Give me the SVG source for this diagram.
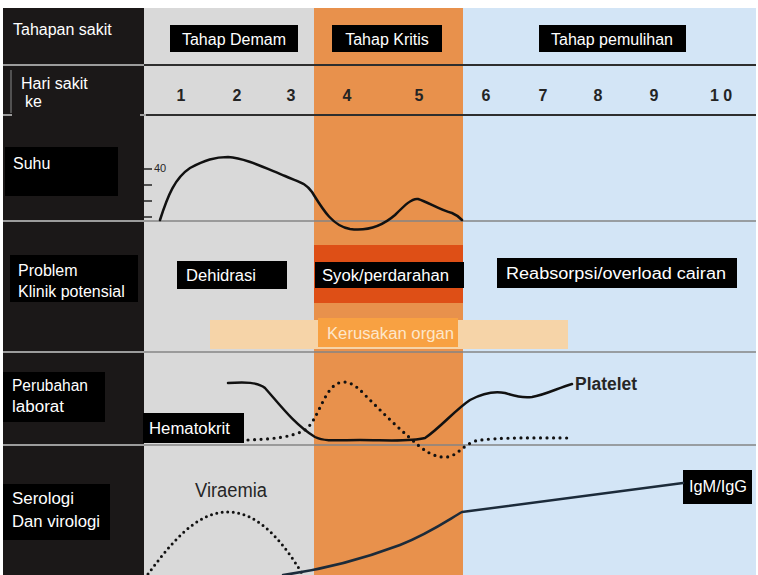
<svg xmlns="http://www.w3.org/2000/svg" width="758" height="575" viewBox="0 0 758 575">
<style>
.lbl{font-family:"Liberation Sans",Arial,sans-serif;font-size:16px;fill:#fff}
.box{fill:#000}
.num{font-family:"Liberation Sans",Arial,sans-serif;font-size:16px;font-weight:bold;fill:#242424;text-anchor:middle}
.dark{font-family:"Liberation Sans",Arial,sans-serif;fill:#262626}
.curve{fill:none;stroke:#111;stroke-width:2.5;stroke-linecap:round;stroke-linejoin:round}
.dots{fill:none;stroke:#111;stroke-width:3.2;stroke-linecap:round;stroke-dasharray:0 6.5}
.rule{stroke:#2e2e2e;stroke-width:2}
.rule2{stroke:#858585;stroke-width:1.5}
.lrule{stroke:#c8c8c8;stroke-width:1.5}
.tick{stroke:#222;stroke-width:1.5}
</style>

<rect width="758" height="575" fill="#fff"/>

<!-- phase columns -->
<rect x="3" y="8" width="141" height="567" fill="#1b1818"/>
<rect x="144" y="8" width="170" height="567" fill="#d9d9d9"/>
<rect x="314" y="8" width="149" height="567" fill="#e8914c"/>
<rect x="463" y="8" width="293" height="567" fill="#d3e5f6"/>

<!-- row rules -->
<g id="rules">
  <line class="rule" x1="144" y1="65" x2="756" y2="65"/>
  <line class="rule" x1="144" y1="115" x2="756" y2="115"/>
  <line class="rule2" x1="144" y1="221" x2="756" y2="221"/>
  <line class="rule2" x1="144" y1="352" x2="756" y2="352"/>
  <line class="rule2" x1="144" y1="445" x2="756" y2="445"/>
  <line class="lrule" x1="3" y1="65" x2="144" y2="65"/>
  <line class="lrule" x1="3" y1="115" x2="12" y2="115"/>
  <line class="lrule" x1="140" y1="115" x2="146" y2="115"/>
  <line stroke="#8a8a8a" stroke-width="1" x1="11" y1="70" x2="11" y2="113"/>
  <line class="lrule" x1="3" y1="221" x2="144" y2="221"/>
  <line class="lrule" x1="3" y1="352" x2="144" y2="352"/>
  <line class="lrule" x1="3" y1="445" x2="144" y2="445"/>
</g>

<!-- shock band and organ damage band -->
<rect x="314" y="245" width="149" height="58" fill="#de4f16"/>
<rect x="210" y="320" width="358" height="29" fill="#f6d4a8"/>

<!-- row headings -->
<g id="row-tahapan">
  <text class="lbl" x="13" y="35">Tahapan sakit</text>
</g>
<g id="row-hari">
  <text class="lbl" x="21" y="89" font-size="15">Hari sakit</text>
  <text class="lbl" x="25" y="107" font-size="15">ke</text>
</g>
<g id="row-suhu">
  <rect class="box" x="5" y="147" width="113" height="49"/>
  <text class="lbl" x="13" y="169">Suhu</text>
</g>
<g id="row-problem">
  <rect class="box" x="10" y="255" width="128" height="47"/>
  <text class="lbl" x="18" y="276">Problem</text>
  <text class="lbl" x="18" y="297">Klinik potensial</text>
</g>
<g id="row-lab">
  <rect class="box" x="3" y="372" width="102" height="50"/>
  <text class="lbl" x="12" y="391" textLength="76" lengthAdjust="spacingAndGlyphs">Perubahan</text>
  <text class="lbl" x="12" y="412" textLength="52" lengthAdjust="spacingAndGlyphs">laborat</text>
</g>
<g id="row-serologi">
  <rect class="box" x="3" y="484" width="107" height="56"/>
  <text class="lbl" x="12" y="504" textLength="62" lengthAdjust="spacingAndGlyphs">Serologi</text>
  <text class="lbl" x="12" y="527" textLength="88" lengthAdjust="spacingAndGlyphs">Dan virologi</text>
</g>

<!-- phase titles -->
<g id="phase-demam">
  <rect class="box" x="170" y="25" width="128" height="27"/>
  <text class="lbl" x="234" y="45" text-anchor="middle">Tahap Demam</text>
</g>
<g id="phase-kritis">
  <rect class="box" x="332" y="25" width="110" height="27"/>
  <text class="lbl" x="387" y="45" text-anchor="middle">Tahap Kritis</text>
</g>
<g id="phase-pemulihan">
  <rect class="box" x="539" y="25" width="147" height="27"/>
  <text class="lbl" x="612" y="45" text-anchor="middle">Tahap pemulihan</text>
</g>

<!-- day numbers -->
<g id="days">
  <text class="num" x="181" y="101">1</text>
  <text class="num" x="237" y="101">2</text>
  <text class="num" x="291" y="101">3</text>
  <text class="num" x="347" y="101">4</text>
  <text class="num" x="419" y="101">5</text>
  <text class="num" x="486" y="101">6</text>
  <text class="num" x="543" y="101">7</text>
  <text class="num" x="598" y="101">8</text>
  <text class="num" x="654" y="101">9</text>
  <text class="num" x="721" y="101">1 0</text>
</g>

<!-- temperature scale -->
<g id="suhu-scale">
  <line class="tick" x1="144" y1="169" x2="152" y2="169"/>
  <line class="tick" x1="144" y1="185" x2="152" y2="185"/>
  <line class="tick" x1="144" y1="201" x2="152" y2="201"/>
  <line class="tick" x1="144" y1="217" x2="152" y2="217"/>
  <text class="dark" x="154" y="172" font-size="11">40</text>
</g>

<!-- clinical problems -->
<g id="dehidrasi">
  <rect class="box" x="177" y="261" width="110" height="28"/>
  <text class="lbl" x="186" y="281" font-size="17" textLength="70" lengthAdjust="spacingAndGlyphs">Dehidrasi</text>
</g>
<g id="syok">
  <rect class="box" x="315" y="262" width="149" height="26"/>
  <text class="lbl" x="322" y="281" font-size="17" textLength="127" lengthAdjust="spacingAndGlyphs">Syok/perdarahan</text>
</g>
<g id="reabsorpsi">
  <rect class="box" x="497" y="258" width="240" height="30"/>
  <text class="lbl" x="506" y="279" font-size="17" textLength="220" lengthAdjust="spacingAndGlyphs">Reabsorpsi/overload cairan</text>
</g>
<g id="kerusakan">
  <rect x="318" y="318" width="140" height="29" fill="#f8a142"/>
  <text class="lbl" x="327" y="339" font-size="17" style="fill:#fde7cb" textLength="127" lengthAdjust="spacingAndGlyphs">Kerusakan organ</text>
</g>

<!-- lab labels -->
<g id="hematokrit">
  <rect class="box" x="143" y="413" width="101" height="30"/>
  <text class="lbl" x="149" y="434" font-size="17" textLength="81" lengthAdjust="spacingAndGlyphs">Hematokrit</text>
</g>
<g id="platelet">
  <text class="dark" x="575" y="390" font-size="18" font-weight="bold" textLength="62" lengthAdjust="spacingAndGlyphs">Platelet</text>
</g>

<!-- serology labels -->
<g id="viraemia">
  <text class="dark" x="195" y="497" font-size="20" fill="#333" textLength="72" lengthAdjust="spacingAndGlyphs">Viraemia</text>
</g>
<g id="igm-igg">
  <rect class="box" x="683" y="470" width="69" height="34"/>
  <text class="lbl" x="689" y="492" font-size="17" textLength="58" lengthAdjust="spacingAndGlyphs">IgM/IgG</text>
</g>

<!-- curves -->
<g id="connectors">
  <path class="curve" d="M160,220 C168,195 175,178 190,168 C205,160 215,157 228,157 C245,158 265,168 285,176 C298,182 305,182 312,192 C322,208 332,226 350,229 C365,231 380,228 395,215 C405,205 412,198 418,199 C428,202 440,210 452,213 C457,215 460,218 462,220"/>
  <path class="curve" d="M228,383 C245,382 258,382 265,388 C280,405 295,425 315,437 C325,442 340,440 360,440 C385,440 410,442 425,438 C440,428 455,410 470,400 C485,392 495,391 505,393 C515,396 522,398 532,397 C545,395 558,388 572,384"/>
  <path class="dots" d="M248,440 C270,439 290,438 305,430 C318,420 322,395 335,385 C345,378 355,384 365,395 C380,410 395,425 410,438 C425,452 435,458 447,457 C457,456 462,446 475,441 C495,437 540,438 572,438"/>
  <path class="dots" style="stroke-width:3;stroke-dasharray:0 5.5" d="M148,574 C170,545 195,512 228,512 C260,512 285,545 303,575"/>
  <path class="curve" style="stroke:#1c2b3a" d="M283,575 C320,570 360,560 400,545 C430,533 448,520 462,512 L683,483"/>
</g>
</svg>
